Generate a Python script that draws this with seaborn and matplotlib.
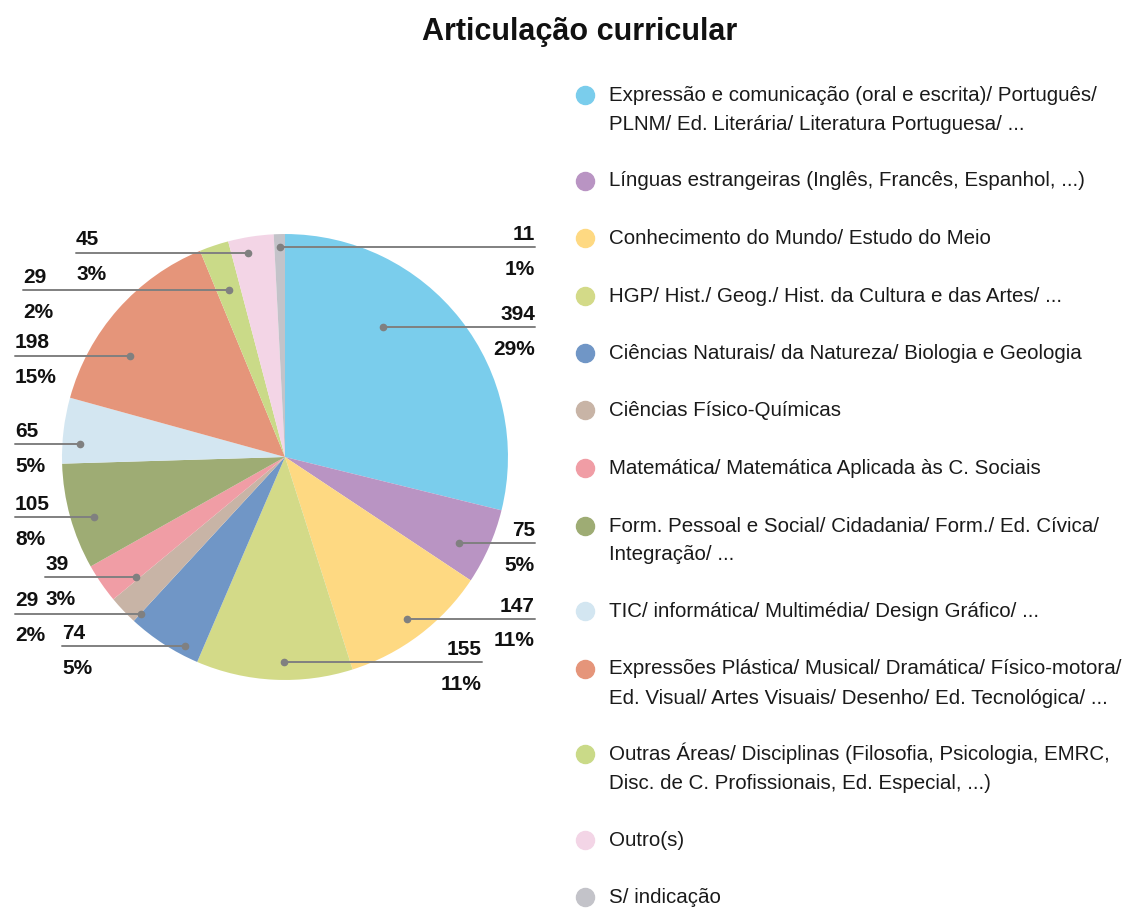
import numpy as np
import matplotlib
matplotlib.use('Agg')
import matplotlib.pyplot as plt
import seaborn as sns

# data
categories = [
    "Expressão e comunicação (oral e escrita)/ Português/\nPLNM/ Ed. Literária/ Literatura Portuguesa/ ...",
    "Línguas estrangeiras (Inglês, Francês, Espanhol, ...)",
    "Conhecimento do Mundo/ Estudo do Meio",
    "HGP/ Hist./ Geog./ Hist. da Cultura e das Artes/ ...",
    "Ciências Naturais/ da Natureza/ Biologia e Geologia",
    "Ciências Físico-Químicas",
    "Matemática/ Matemática Aplicada às C. Sociais",
    "Form. Pessoal e Social/ Cidadania/ Form./ Ed. Cívica/\nIntegração/ ...",
    "TIC/ informática/ Multimédia/ Design Gráfico/ ...",
    "Expressões Plástica/ Musical/ Dramática/ Físico-motora/\nEd. Visual/ Artes Visuais/ Desenho/ Ed. Tecnológica/ ...",
    "Outras Áreas/ Disciplinas (Filosofia, Psicologia, EMRC,\nDisc. de C. Profissionais, Ed. Especial, ...)",
    "Outro(s)",
    "S/ indicação",
]
counts = [394, 75, 147, 155, 74, 29, 39, 105, 65, 198, 29, 45, 11]
pct_labels = ["29%", "5%", "11%", "11%", "5%", "2%", "3%", "8%", "5%", "15%", "2%", "3%", "1%"]

colors = ["#7ACDEC", "#B994C3", "#FED982", "#D3DA88", "#7096C6", "#C8B4A6",
          "#F09DA5", "#9EAC74", "#D3E6F1", "#E5957A", "#CADA88", "#F3D5E6", "#C3C3C9"]

# leader layout: angle shift from wedge middle (deg), radius fraction of dot, label x end
dot_shift = [-14.7, 2.7, 0, -2.5, -5.2, -4, -4.3, -1.9, -3.3, -8.4, 0, -1.4, 0]
dot_r = [0.73, 0.87, 0.91, 0.92, 0.96, 0.955, 0.86, 0.90, 0.92, 0.83, 0.79, 0.93, 0.94]
label_x = [1.121, 1.121, 1.121, 0.883, -1.0, -1.211, -1.076, -1.211, -1.211, -1.211, -1.175, -0.937, 1.121]

sns.set_theme(style='white')
plt.rcParams['font.family'] = ['Liberation Sans', 'DejaVu Sans']

fig = plt.figure(figsize=(11.3, 9.09), dpi=100)
ax = fig.add_axes([0.0016, 0.1857, 0.5012, 0.6231])
pal = sns.color_palette(colors)
ax.pie(counts, colors=pal, startangle=90, counterclock=False, radius=1,
       wedgeprops=dict(linewidth=0))
ax.set_xlim(-1.27, 1.27)
ax.set_ylim(-1.27, 1.27)
ax.set_aspect('equal')
ax.axis('off')

total = sum(counts)
cum = np.cumsum([0] + counts)
for i, v in enumerate(counts):
    mid = (cum[i] + v / 2) / total * 360 + dot_shift[i]  # clockwise from top
    a = np.deg2rad(mid)
    dx, dy = dot_r[i] * np.sin(a), dot_r[i] * np.cos(a)
    lx = label_x[i]
    ax.plot([dx, lx], [dy, dy], color='#808080', lw=1.4, clip_on=False, zorder=3)
    ax.plot(dx, dy, 'o', color='#808080', ms=4.5, clip_on=False, zorder=4)
    ha = 'right' if lx > dx else 'left'
    ax.annotate(str(v), (lx, dy), xytext=(0, 2.5), textcoords='offset points',
                ha=ha, va='bottom', fontsize=15, fontweight='bold', color='#111111',
                annotation_clip=False)
    ax.annotate(pct_labels[i], (lx, dy), xytext=(0, -9), textcoords='offset points',
                ha=ha, va='top', fontsize=15, fontweight='bold', color='#111111',
                annotation_clip=False)

fig.text(0.513, 0.956, "Articulação curricular", ha='center', va='baseline',
         fontsize=22, fontweight='bold', color='#111111')

# legend drawn as markers + text, marker level with first line
H = 909.0
W = 1130.0
y = 95.0
for c, lab in zip(colors, categories):
    lines = lab.split("\n")
    fig.lines.append(plt.Line2D([585 / W], [1 - y / H], marker='o', ms=13, color=c,
                                linestyle='none', transform=fig.transFigure))
    for k, line in enumerate(lines):
        fig.text(609 / W, 1 - (y + 29 * k + 6) / H, line, ha='left', va='baseline',
                 fontsize=14.8, color='#1a1a1a')
    y += 57.5 + 28 * (len(lines) - 1)

fig.savefig('out.png', dpi=100)
